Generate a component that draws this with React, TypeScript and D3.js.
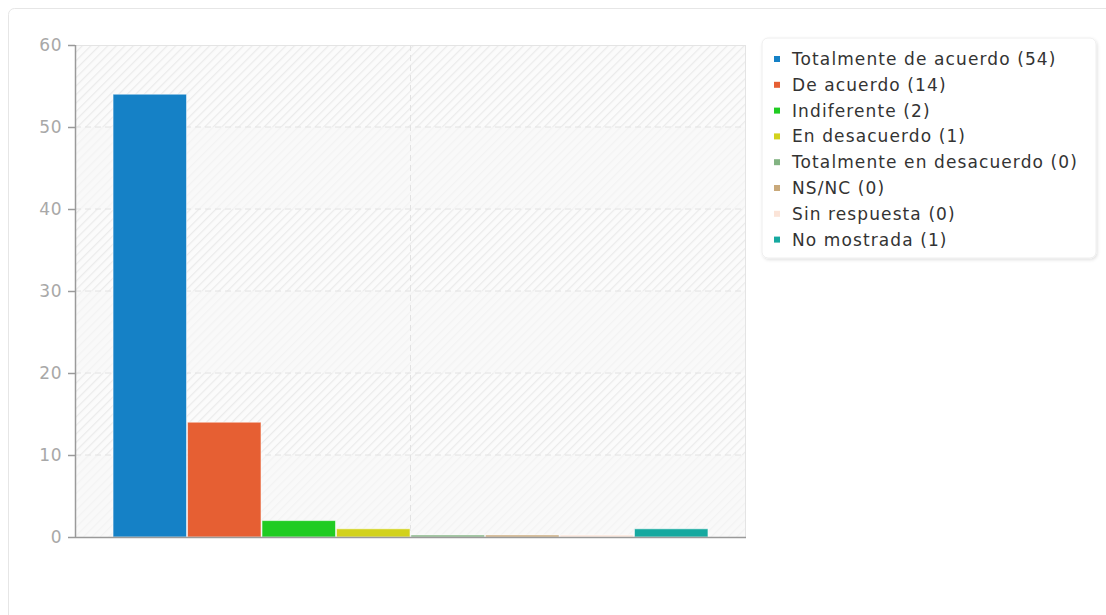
import React from "react";
import * as d3 from "d3";

const categories = [
  "Totalmente de acuerdo",
  "De acuerdo",
  "Indiferente",
  "En desacuerdo",
  "Totalmente en desacuerdo",
  "NS/NC",
  "Sin respuesta",
  "No mostrada",
];
const values = [54, 14, 2, 1, 0, 0, 0, 1];
const colors = [
  "#1581c6",
  "#e65f33",
  "#20cc22",
  "#d2d21c",
  "#82b382",
  "#c9a97a",
  "#fbe4d8",
  "#16a9a0",
];
const yTicks = [0, 10, 20, 30, 40, 50, 60];

const W = 1106;
const H = 615;
const plot = { left: 75, right: 746, top: 45, bottom: 537 };
const FONT = "'DejaVu Sans', sans-serif";

export default function App() {
  const y = d3.scaleLinear().domain([0, 60]).range([plot.bottom, plot.top]);
  const outer = d3
    .scaleBand<string>()
    .domain(["g"])
    .range([plot.left, plot.right])
    .paddingInner(0)
    .paddingOuter(0.063);
  const gx = outer("g") as number;
  const x = d3
    .scaleBand<string>()
    .domain(categories)
    .range([gx, gx + outer.bandwidth()])
    .padding(0);

  const bands = yTicks.slice(0, -1).map((t, i) => ({
    y0: y(t + 10),
    y1: y(t),
    hatched: i % 2 === 1,
  }));

  const legendX = 762;
  const legendY = 38;
  const rowStart = 59;
  const rowStep = 25.8;

  return (
    <svg
      width={W}
      height={H}
      style={{ position: "absolute", left: 0, top: 0, display: "block" }}
      fontFamily={FONT}
    >
      <defs>
        <pattern
          id="hatch"
          patternUnits="userSpaceOnUse"
          width="6"
          height="6"
          patternTransform="rotate(45)"
        >
          <rect width="6" height="6" fill="#fbfbfb" />
          <line x1="0" y1="0" x2="0" y2="6" stroke="#ebebeb" strokeWidth="2.5" />
        </pattern>
        <pattern
          id="hatchLight"
          patternUnits="userSpaceOnUse"
          width="6"
          height="6"
          patternTransform="rotate(45)"
        >
          <rect width="6" height="6" fill="#f9f9f9" />
          <line x1="0" y1="0" x2="0" y2="6" stroke="#f3f3f3" strokeWidth="2.5" />
        </pattern>
        <filter id="shadow" x="-10%" y="-10%" width="120%" height="120%">
          <feDropShadow dx="1" dy="1.5" stdDeviation="1.5" floodColor="#000" floodOpacity="0.12" />
        </filter>
      </defs>

      {/* outer container */}
      <rect x={8.5} y={8.5} width={1120} height={640} rx={6} fill="#fff" stroke="#e6e6e6" />

      {/* plot background bands */}
      {bands.map((b, i) => (
        <rect
          key={i}
          x={plot.left}
          y={b.y0}
          width={plot.right - plot.left}
          height={b.y1 - b.y0}
          fill={b.hatched ? "url(#hatch)" : "url(#hatchLight)"}
        />
      ))}

      {/* grid */}
      {yTicks.slice(1, -1).map((t) => (
        <line
          key={t}
          x1={plot.left}
          x2={plot.right}
          y1={y(t)}
          y2={y(t)}
          stroke="#e2e2e2"
          strokeDasharray="6,4"
        />
      ))}
      <line
        x1={(plot.left + plot.right) / 2}
        x2={(plot.left + plot.right) / 2}
        y1={plot.top}
        y2={plot.bottom}
        stroke="#e2e2e2"
        strokeDasharray="6,4"
      />

      {/* plot frame */}
      <line x1={plot.left} x2={plot.right} y1={plot.top + 0.5} y2={plot.top + 0.5} stroke="#e4e4e4" />
      <line x1={plot.right - 0.5} x2={plot.right - 0.5} y1={plot.top} y2={plot.bottom} stroke="#e4e4e4" />

      {/* bars */}
      {categories.map((c, i) => {
        const v = values[i];
        const top = y(v);
        const h = Math.max(plot.bottom - top, 2);
        return (
          <rect
            key={c}
            x={(x(c) as number) + 0.5}
            y={plot.bottom - h}
            width={x.bandwidth() - 1}
            height={h}
            fill={colors[i]}
            stroke="rgba(255,255,255,0.55)"
            strokeWidth={1}
          />
        );
      })}

      {/* axes */}
      <line x1={plot.left + 0.5} x2={plot.left + 0.5} y1={plot.top} y2={plot.bottom + 1} stroke="#9a9a9a" strokeWidth={1.5} />
      <line x1={plot.left} x2={plot.right} y1={plot.bottom + 0.5} y2={plot.bottom + 0.5} stroke="#9a9a9a" strokeWidth={1.5} />
      {yTicks.map((t) => (
        <g key={t}>
          <line x1={68} x2={plot.left} y1={y(t) + 0.5} y2={y(t) + 0.5} stroke="#9a9a9a" strokeWidth={1.5} />
          <text
            x={62}
            y={y(t)}
            textAnchor="end"
            dominantBaseline="central"
            fontSize={17}
            letterSpacing={0.5}
            fill="#a8a8a8"
          >
            {t}
          </text>
        </g>
      ))}

      {/* legend */}
      <rect
        x={legendX}
        y={legendY}
        width={334}
        height={220}
        rx={6}
        fill="#fff"
        stroke="#eeeeee"
        filter="url(#shadow)"
      />
      {categories.map((c, i) => {
        const cy = rowStart + i * rowStep;
        return (
          <g key={c}>
            <rect x={774} y={cy - 3} width={6} height={6} fill={colors[i]} />
            <text
              x={792}
              y={cy}
              dominantBaseline="central"
              fontSize={17}
              letterSpacing={1.1}
              fill="#333"
            >
              {`${c} (${values[i]})`}
            </text>
          </g>
        );
      })}
    </svg>
  );
}
